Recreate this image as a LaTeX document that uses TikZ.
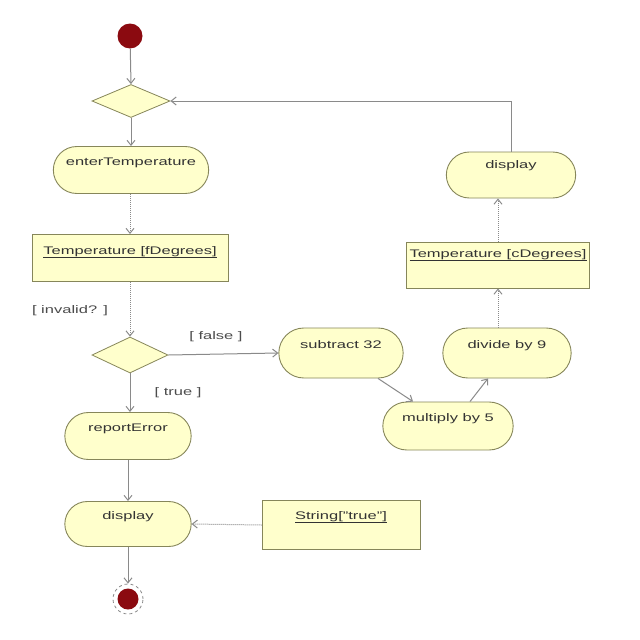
\documentclass[tikz,border=0pt]{standalone}
\usepackage{fontspec}
\setmainfont{Liberation Sans}
\usetikzlibrary{shapes.misc,shapes.geometric,arrows.meta}
\definecolor{fillc}{HTML}{FFFFCC}
\definecolor{bord}{HTML}{86865A}
\definecolor{linec}{HTML}{8A8A8A}
\definecolor{dred}{HTML}{8B0A10}
\newcommand{\wt}[1]{\scalebox{1.5}[1]{#1}}
\begin{document}
\begin{tikzpicture}[x=1pt,y=-1pt,
 every node/.style={font=\fontsize{11}{13}\selectfont, text=black!80},
 act/.style={rounded rectangle, draw=bord, fill=fillc, line width=0.9pt, minimum height=47pt, text height=8pt, text depth=18pt},
 obj/.style={rectangle, draw=bord, fill=fillc, line width=0.9pt, text height=8pt},
 dec/.style={diamond, draw=bord, fill=fillc, line width=0.8pt, inner sep=0pt},
 flow/.style={draw=linec, line width=1pt, -{Straight Barb[length=5pt,width=8pt]}},
 oflow/.style={draw=linec, line width=1pt, densely dotted, -{Straight Barb[length=5pt,width=8pt]}},
 guard/.style={text=black!70}
]
\fill[white] (0,0) rectangle (640,640);
\useasboundingbox (0,0) rectangle (640,640);

% left column
\node[circle, fill=dred, minimum size=25pt, inner sep=0pt] (start) at (130,36) {};
\node[dec, minimum width=78pt, minimum height=33pt] (d1) at (131,101) {};
\node[act, minimum width=162pt] (enter) at (131,170) {\wt{enterTemperature}};
\node[obj, minimum width=196pt, minimum height=47pt, text depth=16pt] (tf) at (130,258) {\wt{\underline{Temperature [fDegrees]}}};
\node[dec, minimum width=76pt, minimum height=36pt] (d2) at (130,355) {};
\node[act, minimum width=133pt] (rep) at (128,436) {\wt{reportError}};
\node[act, minimum width=133pt, minimum height=45pt] (disp1) at (128,524) {\wt{display}};
\node[circle, draw=linec, dashed, line width=0.8pt, minimum size=30pt, inner sep=0pt] (final) at (128,599) {};
\node[circle, fill=dred, minimum size=21pt, inner sep=0pt] (fdot) at (final) {};

% right side
\node[act, minimum width=131pt, minimum height=50pt] (sub) at (341,353) {\wt{subtract 32}};
\node[act, minimum width=137pt, minimum height=48pt] (mul) at (448,426) {\wt{multiply by 5}};
\node[act, minimum width=135pt, minimum height=50pt] (div) at (507,353) {\wt{divide by 9}};
\node[obj, minimum width=166pt, minimum height=46pt, text depth=24pt] (tc) at (498,265) {\wt{\underline{Temperature [cDegrees]}}};
\node[act, minimum width=136pt, minimum height=46pt, text depth=22pt] (disp2) at (511,175) {\wt{display}};
\node[obj, minimum width=158pt, minimum height=49pt, text depth=20pt] (str) at (341,525) {\wt{\underline{String["true"]}}};

% guards
\node[guard] (ginv) at (70,311) {\wt{[ invalid? ]}};
\node[guard] (gfalse) at (216,337) {\wt{[ false ]}};
\node[guard] (gtrue) at (178,393) {\wt{[ true ]}};

% connectors
\coordinate (corner) at (disp2.north |- d1.east);
\draw[flow] (start) -- (d1.north);
\draw[flow] (d1.south) -- (enter.north -| d1.south);
\draw[oflow] (enter.south -| tf.north) -- (tf.north);
\draw[oflow] (tf.south) -- (d2.north);
\draw[flow] (d2.east) -- (sub.west);
\draw[flow] (d2.south) -- (rep.north -| d2.south);
\draw[flow] (rep.south) -- (disp1.north);
\draw[flow] (disp1.south) -- (final.north);
\draw[oflow] (str.west) -- (disp1.east);
\draw[flow] ([xshift=37pt]sub.south) -- ([xshift=-35pt]mul.north);
\draw[flow] ([xshift=22pt]mul.north) -- ([xshift=-19pt]div.south);
\draw[oflow] (div.north -| tc.south) -- (tc.south);
\draw[oflow] (tc.north) -- (disp2.south -| tc.north);
\draw[flow] (disp2.north) -- (corner) -- (d1.east);
\end{tikzpicture}
\end{document}
